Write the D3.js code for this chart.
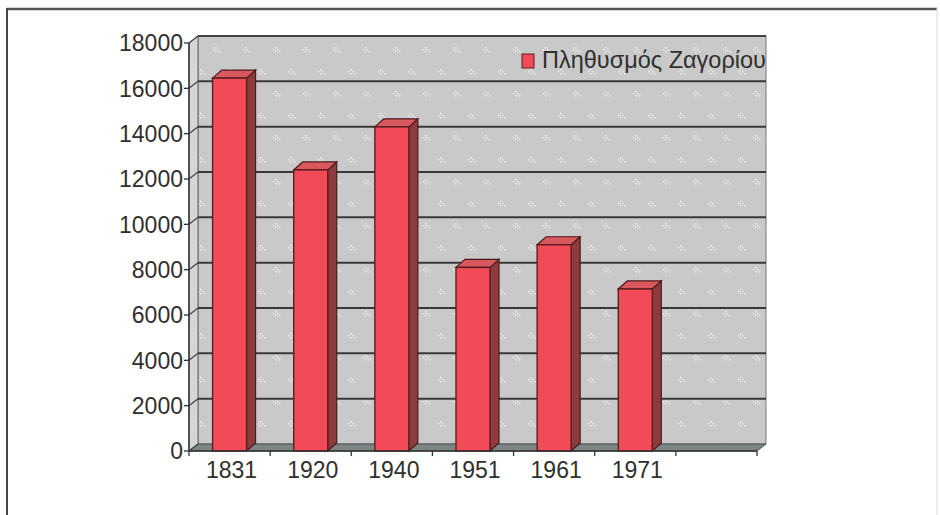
<!DOCTYPE html>
<html><head><meta charset="utf-8">
<script src="https://cdn.jsdelivr.net/npm/d3@7/dist/d3.min.js"></script>
<style>html,body{margin:0;padding:0;background:#fff;}svg{display:block;}</style>
</head><body>
<svg id="chart" width="940" height="515"></svg>
<script>
const categories = ["1831", "1920", "1940", "1951", "1961", "1971", ""];
const population = [16450, 12400, 14300, 8100, 9100, 7150];
const yTicks = [0, 2000, 4000, 6000, 8000, 10000, 12000, 14000, 16000, 18000];
const seriesName = "Πληθυσμός Ζαγορίου";

const svg = d3.select("#chart");
const font = "'Liberation Sans', Arial, sans-serif";
const DX = 9, DY = -7;       // wall depth offset
const BDX = 9, BDY = -8;     // bar depth offset

const x = d3.scaleBand().domain(categories).range([189, 757]).paddingInner(0).paddingOuter(0);
const y = d3.scaleLinear().domain([0, 18000]).range([451, 43]);

const defs = svg.append("defs");
const pat = defs.append("pattern").attr("id", "dots").attr("patternUnits", "userSpaceOnUse")
  .attr("width", 30).attr("height", 44);
pat.append("rect").attr("width", 30).attr("height", 44).attr("fill", "#c9c9c9");
[[3,5],[5,7],[7,5],[5,3],[9,7],[18,27],[20,29],[22,27],[20,25],[24,29]].forEach(([a,b]) =>
  pat.append("rect").attr("x", a).attr("y", b).attr("width", 1.5).attr("height", 1.5).attr("fill", "#eeeeee"));

// outer frame
svg.append("line").attr("x1", 7).attr("x2", 937).attr("y1", 9).attr("y2", 9).attr("stroke", "#555").attr("stroke-width", 2.5);
svg.append("line").attr("x1", 7).attr("x2", 7).attr("y1", 8).attr("y2", 515).attr("stroke", "#444").attr("stroke-width", 2);
svg.append("line").attr("x1", 937).attr("x2", 937).attr("y1", 8).attr("y2", 515).attr("stroke", "#ddd").attr("stroke-width", 1);

const x0 = x.range()[0], x1 = x.range()[1];
const yTop = y(18000), yBot = y(0);

// back wall
svg.append("rect").attr("x", x0 + DX).attr("y", yTop + DY).attr("width", x1 - x0)
  .attr("height", yBot - yTop).attr("fill", "url(#dots)").attr("stroke", "#777").attr("stroke-width", 1);
// side wall
svg.append("polygon").attr("points", [[x0, yBot], [x0, yTop], [x0 + DX, yTop + DY], [x0 + DX, yBot + DY]].join(" "))
  .attr("fill", "#d6d6d6").attr("stroke", "#666").attr("stroke-width", 1);
// floor
svg.append("polygon").attr("points", [[x0, yBot], [x1, yBot], [x1 + DX, yBot + DY], [x0 + DX, yBot + DY]].join(" "))
  .attr("fill", "#7d8585").attr("stroke", "#4a5050").attr("stroke-width", 1);

// gridlines
const g = svg.append("g");
yTicks.forEach(v => {
  if (v > 0) {
    g.append("line").attr("x1", x0 + DX).attr("x2", x1 + DX).attr("y1", y(v) + DY).attr("y2", y(v) + DY)
      .attr("stroke", "#383838").attr("stroke-width", 2);
  }
  g.append("line").attr("x1", x0).attr("x2", x0 + DX).attr("y1", y(v)).attr("y2", y(v) + DY)
    .attr("stroke", "#444").attr("stroke-width", 1.2);
});
g.append("line").attr("x1", x0 + DX).attr("x2", x1 + DX).attr("y1", yTop + DY).attr("y2", yTop + DY)
  .attr("stroke", "#444").attr("stroke-width", 2);

// bars
const bw = 34;
const bars = svg.append("g");
population.forEach((v, i) => {
  const cx = x(categories[i]) + x.bandwidth() / 2;
  const L = cx - bw / 2, R = cx + bw / 2, T = y(v), B = y(0);
  bars.append("polygon").attr("points", [[R, B], [R, T], [R + BDX, T + BDY], [R + BDX, B + BDY]].join(" "))
    .attr("fill", "#8e3b3e").attr("stroke", "#4a1a1c").attr("stroke-width", 1.2);
  bars.append("polygon").attr("points", [[L, T], [R, T], [R + BDX, T + BDY], [L + BDX, T + BDY]].join(" "))
    .attr("fill", "#d9585e").attr("stroke", "#4a1a1c").attr("stroke-width", 1.2);
  bars.append("rect").attr("x", L).attr("y", T).attr("width", bw).attr("height", B - T)
    .attr("fill", "#f24a56").attr("stroke", "#5a1f22").attr("stroke-width", 1.4);
});

// value axis
const ax = svg.append("g");
ax.append("line").attr("x1", x0).attr("x2", x0).attr("y1", yTop).attr("y2", yBot).attr("stroke", "#333").attr("stroke-width", 1.5);
yTicks.forEach(v => {
  ax.append("line").attr("x1", x0 - 5).attr("x2", x0).attr("y1", y(v)).attr("y2", y(v)).attr("stroke", "#333").attr("stroke-width", 1.3);
  ax.append("text").attr("x", x0 - 6).attr("y", y(v)).attr("dy", "0.36em").attr("text-anchor", "end")
    .attr("font-family", font).attr("font-size", 23).attr("fill", "#2f2f2f").text(v);
});

// category axis
ax.append("line").attr("x1", x0).attr("x2", x1).attr("y1", yBot).attr("y2", yBot).attr("stroke", "#333").attr("stroke-width", 1.5);
categories.forEach((c, i) => {
  ax.append("line").attr("x1", x(c)).attr("x2", x(c)).attr("y1", yBot).attr("y2", yBot + 5).attr("stroke", "#333").attr("stroke-width", 1.3);
  if (c) ax.append("text").attr("x", x(c) + x.bandwidth() / 2 + 2).attr("y", 478).attr("text-anchor", "middle")
    .attr("font-family", font).attr("font-size", 23).attr("fill", "#2f2f2f").text(c);
});
ax.append("line").attr("x1", x1).attr("x2", x1).attr("y1", yBot).attr("y2", yBot + 5).attr("stroke", "#333").attr("stroke-width", 1.3);

// legend
const lg = svg.append("g");
lg.append("rect").attr("x", 522).attr("y", 54).attr("width", 12).attr("height", 14).attr("fill", "#f24a56").attr("stroke", "#5a1f22").attr("stroke-width", 1);
lg.append("text").attr("x", 542).attr("y", 68).attr("font-family", font).attr("font-size", 23.5)
  .attr("fill", "#2f2f2f").text(seriesName);
</script>
</body></html>
